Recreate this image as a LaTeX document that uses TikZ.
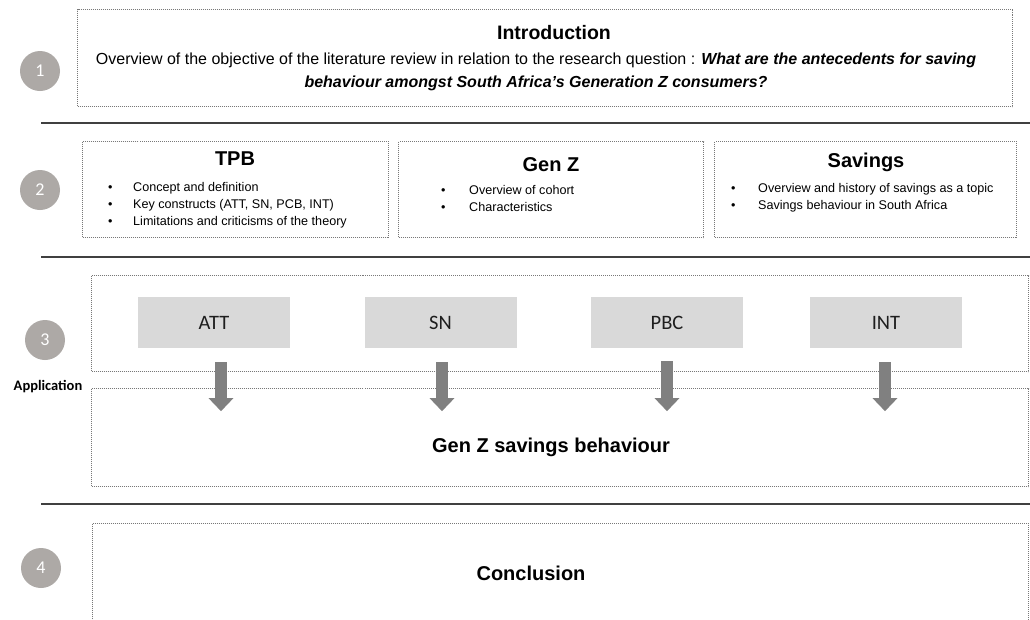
\documentclass[tikz,border=0pt]{standalone}
\usepackage{fontspec}
\setmainfont{Liberation Sans}
\newfontfamily\calfont{Carlito}
\usetikzlibrary{arrows.meta}

\definecolor{numgray}{RGB}{173,169,166}
\definecolor{dotgray}{RGB}{120,120,120}
\definecolor{rulegray}{RGB}{64,64,64}
\definecolor{boxgray}{RGB}{217,217,217}
\definecolor{arrowgray}{RGB}{128,128,128}
\definecolor{labelgray}{RGB}{30,30,30}

\begin{document}
\begin{tikzpicture}[x=1pt,y=-1pt,
  dotbox/.style={draw=dotgray, line width=1pt, dash pattern=on 1pt off 1pt,
                 inner sep=0pt, anchor=north west},
  numcircle/.style={circle, fill=numgray, minimum size=40pt, inner sep=0pt,
                    text=white, font=\calfont\fontsize{18}{18}\selectfont},
  sectionrule/.style={draw=rulegray, line width=1.3pt},
  construct/.style={fill=boxgray, minimum width=152pt, minimum height=51pt,
                    inner sep=0pt, text=labelgray,
                    font=\calfont\fontsize{20.5}{20.5}\selectfont},
  bigarrow/.style={draw=arrowgray, line width=12pt,
                   -{Triangle[width=24pt,length=13pt]}},
  heading/.style={anchor=base, inner sep=0pt,
                  font=\bfseries\fontsize{20}{20}\selectfont},
  bullets/.style={anchor=base west, inner sep=0pt,
                  font=\fontsize{12.6}{17}\selectfont}
]
\useasboundingbox[fill=white] (0,0) rectangle (1030,619);

% ---------- 1: Introduction ----------
\node[numcircle] (n1) at (40,71) {1};
\node[dotbox, minimum width=935pt, minimum height=97pt] (introbox) at (77,9) {};
\node[heading, font=\bfseries\fontsize{19.5}{19.5}\selectfont] (introtitle) at (554,39) {Introduction};
\node[inner sep=0pt, align=center, font=\fontsize{16}{23}\selectfont] (introtext) at (536,72)
  {Overview of the objective of the literature review in relation to the research question : \textbf{\textit{What are the antecedents for saving}}\\
   \textbf{\textit{behaviour amongst South Africa’s Generation Z consumers?}}};
\coordinate (r1a) at (41,123);
\coordinate (r1b) at (1030,123);
\draw[sectionrule] (r1a) -- (r1b);

% ---------- 2: TPB, Gen Z, Savings ----------
\node[numcircle] (n2) at (40,190) {2};
\node[dotbox, minimum width=306pt, minimum height=96pt] (tpbbox) at (82,141) {};
\node[dotbox, minimum width=305pt, minimum height=96pt] (genzbox) at (398,141) {};
\node[dotbox, minimum width=302pt, minimum height=96pt] (savbox) at (714,141) {};

\node[heading] (tpbtitle) at (235,165) {TPB};
\node[bullets] (tpblist) at (108,191)
  {\begin{tabular}[t]{@{}p{25pt}@{}l@{}}
   \textbullet & Concept and definition\\
   \textbullet & Key constructs (ATT, SN, PCB, INT)\\
   \textbullet & Limitations and criticisms of the theory
   \end{tabular}};

\node[heading] (genztitle) at (551,171) {Gen Z};
\node[bullets] (genzlist) at (441,194)
  {\begin{tabular}[t]{@{}p{28pt}@{}l@{}}
   \textbullet & Overview of cohort\\
   \textbullet & Characteristics
   \end{tabular}};

\node[heading] (savtitle) at (866,167) {Savings};
\node[bullets] (savlist) at (731,192)
  {\begin{tabular}[t]{@{}p{27pt}@{}l@{}}
   \textbullet & Overview and history of savings as a topic\\
   \textbullet & Savings behaviour in South Africa
   \end{tabular}};

\coordinate (r2a) at (41,257);
\coordinate (r2b) at (1030,257);
\draw[sectionrule] (r2a) -- (r2b);

% ---------- 3: Application ----------
\node[numcircle] (n3) at (45,340) {3};
\node[anchor=base, inner sep=0pt, font=\calfont\bfseries\fontsize{14.5}{14.5}\selectfont]
  (applabel) at (48,390) {Application};
\node[dotbox, minimum width=937pt, minimum height=96pt] (constructsbox) at (91,275) {};
\node[dotbox, minimum width=937pt, minimum height=98pt] (behaviourbox) at (91,388) {};
\node[heading] (behaviourtitle) at (551,452) {Gen Z savings behaviour};

\node[construct] (att) at (214,322.5) {ATT};
\node[construct] (sn)  at (440.5,322.5) {SN};
\node[construct] (pbc) at (667,322.5) {PBC};
\node[construct] (int) at (886,322.5) {INT};

\coordinate (attS) at ([xshift=7pt,yshift=-14pt]att.south);
\coordinate (attT) at ([xshift=7pt,yshift=-63pt]att.south);
\coordinate (snS)  at ([xshift=1.5pt,yshift=-14pt]sn.south);
\coordinate (snT)  at ([xshift=1.5pt,yshift=-63pt]sn.south);
\coordinate (pbcS) at ([yshift=-13pt]pbc.south);
\coordinate (pbcT) at ([yshift=-63pt]pbc.south);
\coordinate (intS) at ([xshift=-1pt,yshift=-14pt]int.south);
\coordinate (intT) at ([xshift=-1pt,yshift=-63pt]int.south);
\draw[bigarrow] (attS) -- (attT);
\draw[bigarrow] (snS) -- (snT);
\draw[bigarrow] (pbcS) -- (pbcT);
\draw[bigarrow] (intS) -- (intT);

\coordinate (r3a) at (41,504);
\coordinate (r3b) at (1030,504);
\draw[sectionrule] (r3a) -- (r3b);

% ---------- 4: Conclusion ----------
\node[numcircle] (n4) at (41,568) {4};
\begin{scope}
  \clip (0,0) rectangle (1030,619);
  \node[dotbox, minimum width=936pt, minimum height=130pt] (conclbox) at (92,523) {};
\end{scope}
\node[heading] (concltitle) at (531,580) {Conclusion};
\end{tikzpicture}
\end{document}
